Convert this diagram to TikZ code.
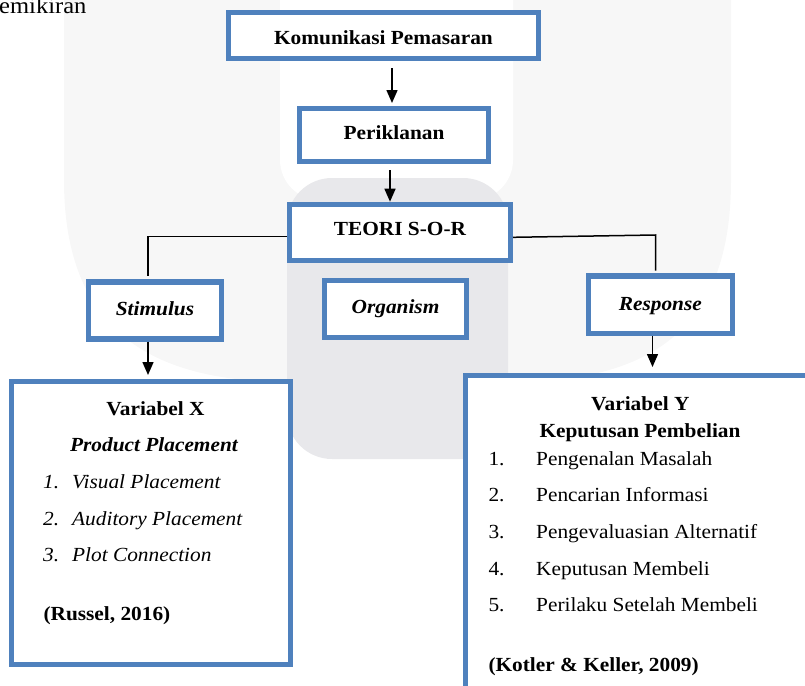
\documentclass[tikz,border=0pt]{standalone}
\usepackage{fontspec}
\setmainfont{Liberation Serif}[FakeStretch=1.067]
\usetikzlibrary{arrows.meta}
\definecolor{bblue}{HTML}{4F81BD}
\definecolor{wmfaint}{HTML}{F7F7F7}
\definecolor{wmgray}{HTML}{E8E8EB}
\begin{document}
\begin{tikzpicture}[x=1pt,y=-1pt,
  box/.style={draw=bblue, line width=5.3pt, fill=white, inner sep=0pt, text depth=0pt,
    font=\fontsize{20}{24}\selectfont},
  conn/.style={line width=1.5pt, black},
  arr/.style={conn, -{Triangle[length=13pt,width=11pt]}},
  txt/.style={inner sep=0pt, font=\fontsize{20}{24}\selectfont},
]
\clip (0,0) rectangle (805,685);
% watermark
\fill[wmfaint] (64,-5) -- (64,180) .. controls (64,330) and (150,382) .. (290,382) -- (510,382) .. controls (650,382) and (731,330) .. (731,180) -- (731,-5) -- cycle;
\fill[white, rounded corners=40pt] (280,-60) rectangle (513,200);
\fill[wmgray, rounded corners=45pt] (287,178) rectangle (508,459);

\node[txt, anchor=base west, font=\fontsize{23}{27}\selectfont] (hdr) at (-1,13.3) {emikiran};

% boxes
\node[box, minimum width=309.7pt, minimum height=46.1pt, text height=19.4pt] (kom) at (383.5,35.3) {\bfseries Komunikasi Pemasaran};
\node[box, minimum width=188.7pt, minimum height=52.7pt, text height=8.6pt] (per) at (394,135) {\bfseries Periklanan};
\node[box, minimum width=220.7pt, minimum height=56.3pt, text height=6.4pt] (teo) at (400,232.5) {\bfseries TEORI S-O-R};
\node[box, minimum width=133.3pt, minimum height=57.1pt, text height=9pt] (sti) at (155,310.5) {\bfseries\itshape Stimulus};
\node[box, minimum width=142.3pt, minimum height=57pt, text height=8.9pt] (org) at (395.5,308.85) {\bfseries\itshape Organism};
\node[box, minimum width=144pt, minimum height=57.4pt, text height=10.7pt] (res) at (660.35,304.65) {\bfseries\itshape Response};
\node[box, minimum width=278.7pt, minimum height=282.7pt] (varx) at (151,523) {};
\node[box, minimum width=361.7pt, minimum height=341.7pt] (vary) at (646.5,546.5) {};

% connectors
\coordinate (ax1) at (392,0);
\coordinate (ax2) at (390,0);
\coordinate (ax3) at (148,0);
\coordinate (ax4) at (652.5,0);
\coordinate (cl) at (148,236.7);
\coordinate (cry) at (0,237.3);
\coordinate (cr) at (655.5,235);
\draw[arr, shorten <=7pt, shorten >=3pt] (kom.south -| ax1) -- (per.north -| ax1);
\draw[arr, shorten <=6pt] (per.south -| ax2) -- (teo.north -| ax2);
\draw[conn, shorten >=3.3pt] (teo.west |- cl) -| (sti.north -| cl);
\draw[conn, shorten >=2.6pt] (teo.east |- cry) -- (cr) -- (cr |- res.north);
\draw[arr, shorten >=4pt] (sti.south -| ax3) -- (varx.north -| ax3);
\draw[arr, shorten >=6pt] (res.south -| ax4) -- (vary.north -| ax4);

% Variabel X texts
\node[txt, anchor=base] (vxt) at (155.5,415) {\bfseries Variabel X};
\node[txt, anchor=base] (vxs) at (154,451.7) {\bfseries\itshape Product Placement};
\node[txt, anchor=base west] (vxn1) at (43,488.3) {\itshape 1.};
\node[txt, anchor=base west] (vxi1) at (72,488.3) {\itshape Visual Placement};
\node[txt, anchor=base west] (vxn2) at (43,525) {\itshape 2.};
\node[txt, anchor=base west] (vxi2) at (72,525) {\itshape Auditory Placement};
\node[txt, anchor=base west] (vxn3) at (43,561.7) {\itshape 3.};
\node[txt, anchor=base west] (vxi3) at (72,561.7) {\itshape Plot Connection};
\node[txt, anchor=base west] (vxr) at (43.3,620) {\bfseries (Russel, 2016)};

% Variabel Y texts
\node[txt, anchor=base] (vyt) at (640.3,410) {\bfseries Variabel Y};
\node[txt, anchor=base] (vys) at (640,437.3) {\bfseries Keputusan Pembelian};
\node[txt, anchor=base west] (vyn1) at (488.3,465) {1.};
\node[txt, anchor=base west] (vyi1) at (536,465) {Pengenalan Masalah};
\node[txt, anchor=base west] (vyn2) at (488.3,501.7) {2.};
\node[txt, anchor=base west] (vyi2) at (536,501.7) {Pencarian Informasi};
\node[txt, anchor=base west] (vyn3) at (488.3,538.3) {3.};
\node[txt, anchor=base west] (vyi3) at (536,538.3) {Pengevaluasian Alternatif};
\node[txt, anchor=base west] (vyn4) at (488.3,575) {4.};
\node[txt, anchor=base west] (vyi4) at (536,575) {Keputusan Membeli};
\node[txt, anchor=base west] (vyn5) at (488.3,611.7) {5.};
\node[txt, anchor=base west] (vyi5) at (536,611.7) {Perilaku Setelah Membeli};
\node[txt, anchor=base west] (vyr) at (488.3,671.7) {\bfseries (Kotler \& Keller, 2009)};
\end{tikzpicture}
\end{document}
